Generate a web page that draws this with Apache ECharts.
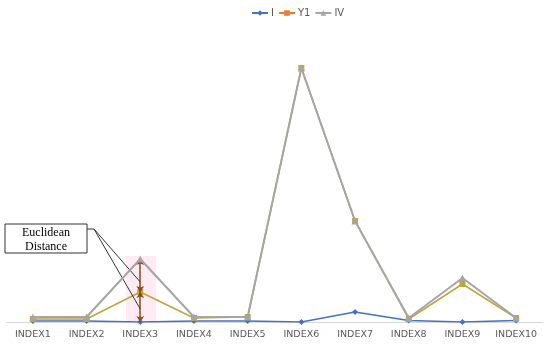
<!DOCTYPE html>
<html>
<head>
<meta charset="utf-8">
<script src="https://cdn.jsdelivr.net/npm/echarts@6/dist/echarts.min.js"></script>
<style>
  html, body { margin: 0; padding: 0; background: #fff; }
  #chart { width: 550px; height: 346px; }
</style>
</head>
<body>
<div id="chart"></div>
<script>
// categorias del eje x
const categorias = ['INDEX1', 'INDEX2', 'INDEX3', 'INDEX4', 'INDEX5', 'INDEX6', 'INDEX7', 'INDEX8', 'INDEX9', 'INDEX10'];
// valores
const serieI  = [1, 1, 0, 1, 1, 0, 10, 1.5, 0, 1.5];
const serieY1 = [3, 3, 30, 4, 5, 254, 101, 3, 38, 4];
const serieIV = [5, 5, 63, 5, 5, 254, 101, 4, 44, 4];

const myChart = echarts.init(document.getElementById('chart'));

const option = {
    animation: false,
    legend: {
        top: 3,
        left: 246,
        itemWidth: 16,
        itemHeight: 7,
        itemGap: 4,
        textStyle: { color: '#595959', fontSize: 10, fontFamily: 'DejaVu Sans', padding: [0, 0, 0, -2] },
        data: ['I', { name: 'Y1', itemStyle: { color: '#ED7D31' }, lineStyle: { color: '#ED7D31' } }, 'IV']
    },
    grid: { left: 6, right: 7, top: 22, bottom: 24 },
    xAxis: {
        type: 'category',
        data: categorias,
        axisLine: { lineStyle: { color: '#d9d9d9', width: 1 } },
        axisTick: { show: false },
        axisLabel: { interval: 0, color: '#595959', fontSize: 9.5, fontFamily: 'DejaVu Sans', margin: 8 }
    },
    yAxis: {
        type: 'value',
        min: 0,
        max: 300,
        show: false,
        splitLine: { show: false }
    },
    graphic: [
        // sombreado rosa
        {
            type: 'rect',
            shape: { x: 126, y: 256, width: 30, height: 66 },
            style: { fill: 'rgba(255,190,220,0.3)' },
            z: 0
        },
        {
            type: 'rect',
            shape: { x: 5, y: 224, width: 82, height: 29 },
            style: { fill: '#fff', stroke: '#333', lineWidth: 1 },
            z: 100
        },
        {
            type: 'line',
            shape: { x1: 87, y1: 229, x2: 94, y2: 229 },
            style: { stroke: '#333', lineWidth: 1 },
            z: 100
        },
        {
            type: 'text',
            x: 46,
            y: 226,
            style: {
                text: 'Euclidean\nDistance',
                fill: '#000',
                font: '12px "Liberation Serif"',
                textAlign: 'center',
                lineHeight: 14
            },
            z: 101
        }
    ],
    series: [
        {
            name: 'I',
            type: 'line',
            data: serieI,
            symbol: 'diamond',
            symbolSize: 6,
            itemStyle: { color: '#4472C4' },
            lineStyle: { color: '#4472C4', width: 1.5 },
            z: 3
        },
        {
            name: 'Y1',
            type: 'line',
            data: serieY1,
            symbol: 'rect',
            symbolSize: 6,
            itemStyle: { color: '#BFA53A' },
            lineStyle: { color: '#BFA53A', width: 1.5 },
            z: 4,
            markLine: {
                silent: true,
                symbol: ['arrow', 'arrow'],
                symbolSize: 6,
                label: { show: false },
                lineStyle: { color: '#8B4A1A', width: 1.5, type: 'solid' },
                data: [
                    [{ coord: ['INDEX3', serieIV[2]] }, { coord: ['INDEX3', serieY1[2]] }],
                    [{ coord: ['INDEX3', serieY1[2]] }, { coord: ['INDEX3', serieI[2]] }]
                ]
            }
        },
        {
            name: 'IV',
            type: 'line',
            data: serieIV,
            symbol: 'triangle',
            symbolSize: 7,
            itemStyle: { color: '#A5A5A5' },
            lineStyle: { color: '#A5A5A5', width: 2 },
            z: 5,
            markLine: {
                silent: true,
                symbol: ['none', 'none'],
                label: { show: false },
                lineStyle: { color: '#333', width: 1, type: 'solid' },
                data: [
                    [{ x: 94, y: 229 }, { coord: ['INDEX3', 40] }],
                    [{ x: 94, y: 229 }, { coord: ['INDEX3', 13] }]
                ]
            }
        }
    ]
};

myChart.setOption(option);
</script>
</body>
</html>
